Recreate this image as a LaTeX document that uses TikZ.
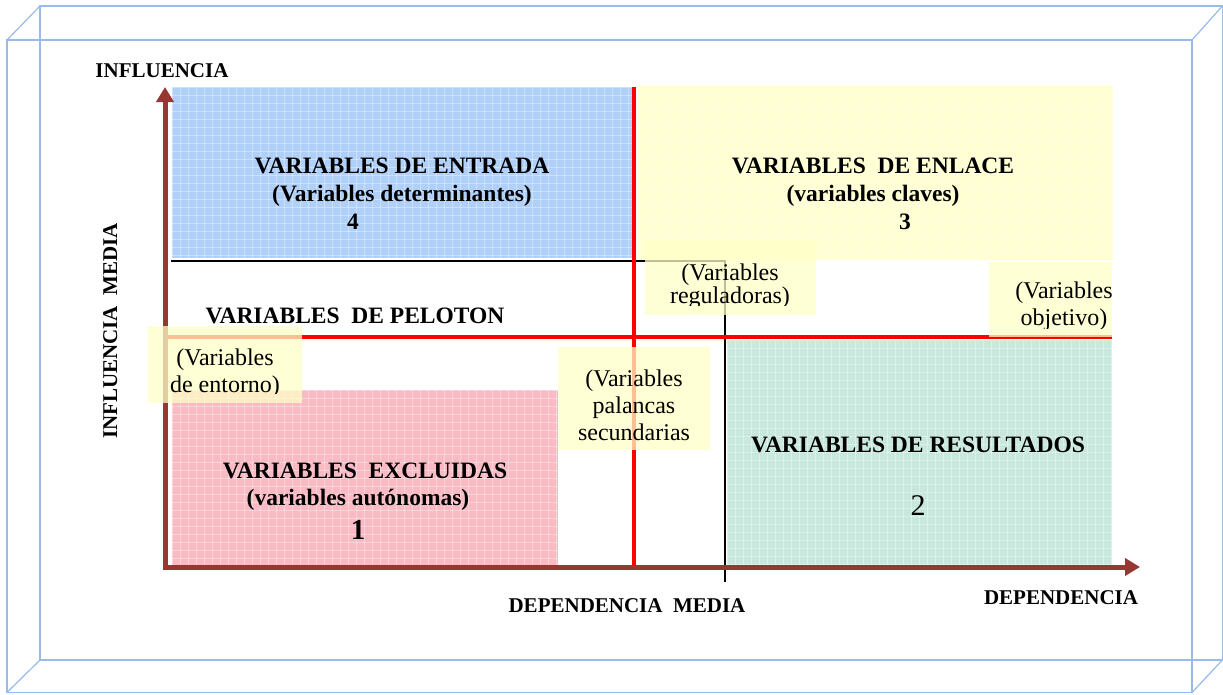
\documentclass[tikz,border=0pt]{standalone}
\usepackage{fontspec}
\setmainfont{Liberation Serif}
\usetikzlibrary{arrows.meta}
\definecolor{framecol}{RGB}{153,187,234}
\definecolor{fblue}{RGB}{176,208,250}
\definecolor{fyellow}{RGB}{255,255,210}
\definecolor{fpink}{RGB}{250,186,196}
\definecolor{fgreen}{RGB}{200,231,221}
\definecolor{axiscol}{RGB}{150,55,50}
\definecolor{lblfill}{RGB}{255,255,200}
\newcommand\myhatch[4]{%
  \begin{scope}
  \clip (#1,#2) rectangle (#3,#4);
  \foreach \i in {#1,...,#3} {\pgfmathparse{int(mod(\i-#1,8))}\ifnum\pgfmathresult=0 \draw[gridl] (\i,#2) -- (\i,#4);\fi}
  \foreach \j in {#2,...,#4} {\pgfmathparse{int(mod(\j-#2,8))}\ifnum\pgfmathresult=0 \draw[gridl] (#1,\j) -- (#3,\j);\fi}
  \end{scope}}
\begin{document}
\begin{tikzpicture}[x=1pt,y=-1pt,
  frame/.style={draw=framecol,line width=1.2pt},
  axis/.style={draw=axiscol,line width=5pt,-{Triangle[length=15pt,width=17pt]}},
  redline/.style={draw=red,line width=4.5pt},
  gridl/.style={draw=white,draw opacity=0.35,line width=0.8pt},
  lblbox/.style={fill=lblfill,fill opacity=0.75},
  big/.style={font=\bfseries\fontsize{23.5}{26}\selectfont,inner sep=0pt,anchor=base},
  small/.style={font=\bfseries\fontsize{21}{24}\selectfont,inner sep=0pt,anchor=base},
  lbl/.style={font=\fontsize{24}{26}\selectfont,inner sep=0pt,anchor=base}]
\useasboundingbox (0,0) rectangle (1223,694);
% 3D frame
\draw[frame] (7,40) rectangle (1192,692.5);
\draw[frame] (40,6) rectangle (1222.4,660);
\draw[frame] (7,40) -- (40,6);
\draw[frame] (1192,40) -- (1222.4,6);
\draw[frame] (7,692.5) -- (40,660);
\draw[frame] (1192,692.5) -- (1222.4,660);
% quadrant fills
\fill[fblue] (172,87) rectangle (632,258);
\myhatch{172}{87}{632}{258}
\fill[fyellow] (637,85) rectangle (1113,260);
\myhatch{637}{85}{1113}{260}
\fill[fpink] (172,390) rectangle (558,566);
\myhatch{172}{390}{558}{566}
\fill[fgreen] (727,340) rectangle (1112,566);
\myhatch{727}{340}{1112}{566}
% black guide line
\draw[line width=1.8pt] (171,261) -- (725,261) -- (725,582);
% red lines
\draw[redline] (167,337) -- (1112,337);
\draw[redline] (634,87) -- (634,568);
% axes
\coordinate (O) at (165,567);
\coordinate (Ox) at (163,567);
\coordinate (ytop) at (165,87);
\coordinate (xend) at (1140,567);
\draw[axis] (O) -- (ytop);
\draw[axis] (Ox) -- (xend);
% label boxes
\fill[lblbox] (645,240) rectangle (816,315);
\fill[lblbox] (989,262) rectangle (1112,337);
\fill[lblbox] (148,326) rectangle (302,403);
\fill[lblbox] (558,347) rectangle (710,450);
% label texts (clipped)
\begin{scope}
\clip (645,240) rectangle (816,305);
\node[lbl] (reg1) at (730,280) {(Variables};
\node[lbl] (reg2) at (730,303) {reguladoras)};
\end{scope}
\begin{scope}
\clip (989,262) rectangle (1130,328);
\node[lbl] (obj1) at (1064,298) {(Variables};
\node[lbl] (obj2) at (1064,325) {objetivo)};
\end{scope}
\begin{scope}
\clip (148,326) rectangle (302,393);
\node[lbl] (ent1) at (225,365) {(Variables};
\node[lbl] (ent2) at (225,392) {de entorno)};
\end{scope}
\begin{scope}
\clip (558,347) rectangle (710,441);
\node[lbl] (pal1) at (634,386) {(Variables};
\node[lbl] (pal2) at (634,413) {palancas};
\node[lbl] (pal3) at (634,440) {secundarias};
\end{scope}
% quadrant texts
\node[big] (q4a) at (402,173) {VARIABLES DE ENTRADA};
\node[big] (q4b) at (402,201) {(Variables determinantes)};
\node[big] (q4c) at (353,229) {4};
\node[big] (q3a) at (873,173) {VARIABLES\ \ DE ENLACE};
\node[big] (q3b) at (873,201) {(variables claves)};
\node[big] (q3c) at (905,229) {3};
\node[big] (pel) at (355,323) {VARIABLES\ \ DE PELOTON};
\node[big] (q1a) at (365,478) {VARIABLES\ \ EXCLUIDAS};
\node[big] (q1b) at (358,505) {(variables autónomas)};
\node[big,font=\bfseries\fontsize{29}{32}\selectfont] (q1c) at (358,539) {1};
\node[big] (q2a) at (918,452) {VARIABLES DE RESULTADOS};
\node[lbl,font=\fontsize{30}{34}\selectfont] (q2c) at (918,515) {2};
% axis labels
\node[small] (infl) at (162,77) {INFLUENCIA};
\node[small,rotate=90] (inflm) at (117,331) {INFLUENCIA\ \ MEDIA};
\node[small] (depm) at (627,612) {DEPENDENCIA\ \ MEDIA};
\node[small] (dep) at (1061,604) {DEPENDENCIA};
\end{tikzpicture}
\end{document}
